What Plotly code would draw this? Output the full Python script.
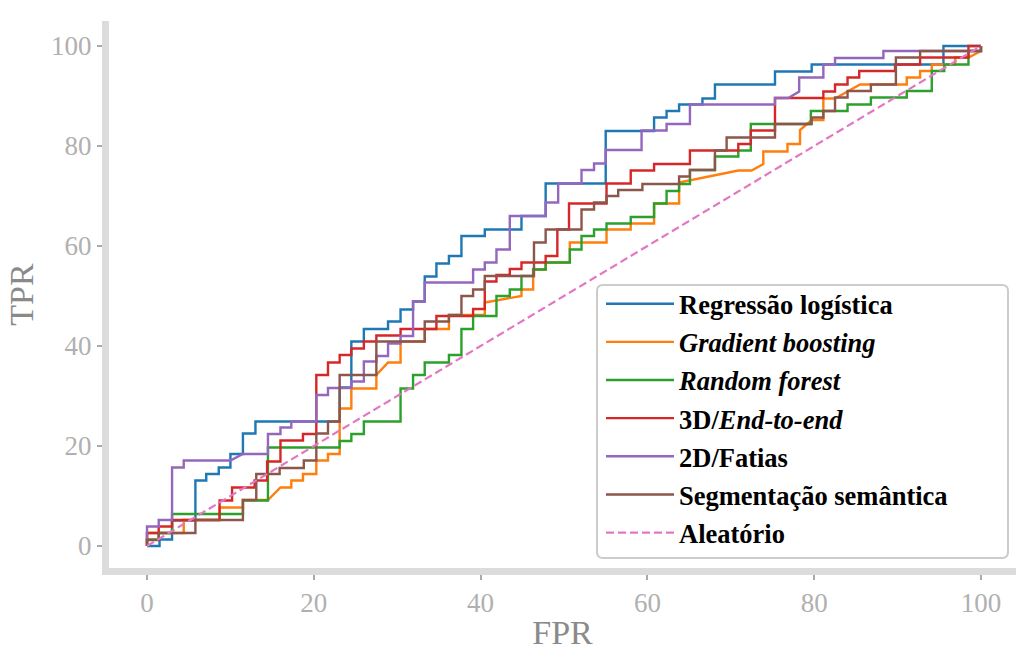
import plotly.graph_objects as go

# ROC curve vertices (FPR %, TPR %)
logreg = [(0,0),(1.5,0),(1.5,1.3),(3,1.3),(3,5.1),(5.8,5.1),(5.8,13.1),(7.1,13.1),(7.1,14.4),(8.6,14.4),(8.6,15.7),(10,15.7),(10,18.4),(11.5,18.4),(11.5,22.5),(13,22.5),(13,24.9),(23.1,24.9),(23.1,31.7),(24.5,31.7),(24.5,40.9),(26,40.9),(26,43.4),(28.9,43.4),(28.9,44.9),(30.4,44.9),(30.4,47.3),(31.9,47.3),(31.9,48.9),(33.3,48.9),(33.3,53.9),(34.7,53.9),(34.7,56.5),(36.2,56.5),(36.2,58),(37.7,58),(37.7,62),(40.5,62),(40.5,63.3),(44.9,63.3),(44.9,66),(47.8,66),(47.8,72.5),(55,72.5),(55,83),(60.8,83),(60.8,85.7),(62.3,85.7),(62.3,87),(63.8,87),(63.8,88.3),(66.6,88.3),(66.6,89.5),(68.1,89.5),(68.1,92.3),(75.3,92.3),(75.3,94.9),(79.7,94.9),(79.7,96.3),(95.5,96.3),(95.5,100),(100,100)]

gboost = [(0,0),(0,2.6),(4.4,2.6),(4.4,5.2),(8.7,5.2),(8.7,7.7),(11.5,7.7),(11.5,9.2),(14.5,9.2),(16,11.7),(17.3,11.7),(17.3,13.1),(18.7,13.1),(18.7,14.4),(20.3,14.4),(20.3,17.1),(21.7,17.1),(21.7,18.4),(23.1,18.4),(23.1,27.5),(24.5,27.5),(24.5,31.5),(27.5,31.5),(27.5,34.2),(28.9,36.7),(30.4,36.7),(30.4,40.9),(33.3,40.9),(33.3,43.4),(36.2,43.4),(36.2,46.2),(40.5,46.2),(40.5,48.7),(44.9,50),(44.9,51.3),(46.3,51.3),(46.3,55.3),(47.8,55.3),(47.8,56.7),(50.7,56.7),(50.7,60.7),(55.1,60.7),(55.1,63.3),(58,63.3),(58,64.5),(60.8,64.5),(60.8,68.5),(63.8,68.5),(63.8,72.7),(70.9,75.1),(72.5,75.1),(73.9,76.4),(73.9,78.9),(76.8,78.9),(76.8,80.4),(78.3,80.4),(78.3,83.2),(79.7,85.2),(81.1,85.2),(81.1,89.5),(82.5,89.5),(85.5,92.3),(91.1,92.3),(91.1,93.7),(92.7,93.7),(92.7,95),(94.1,95),(94.1,96.3),(96.9,96.3),(96.9,97.7),(98.5,97.7),(100,99),(100,100)]

rforest = [(0,0),(0,1.3),(1.4,1.3),(1.4,2.6),(3,2.6),(3,6.4),(11.5,6.4),(11.5,9.1),(14.5,9.1),(14.5,19.7),(23.1,19.7),(23.1,21),(24.5,21),(24.5,22.4),(26,22.4),(26,24.9),(30.4,24.9),(30.4,31.5),(31.9,31.5),(31.9,34.2),(33.3,34.2),(33.3,36.7),(36.2,36.7),(36.2,38.2),(37.7,38.2),(37.7,43.4),(39.1,43.4),(39.1,46),(41.9,46),(41.9,50),(43.5,50),(43.5,51.3),(44.9,51.3),(44.9,54),(46.3,54),(46.3,55.3),(47.8,55.3),(47.8,56.7),(50.7,56.7),(50.7,59.3),(52.1,59.3),(52.1,62),(53.6,62),(53.6,63.3),(55.1,63.3),(55.1,64.5),(58,64.5),(58,65.8),(60.8,65.8),(60.8,68.5),(62.3,68.5),(62.3,71),(63.8,71),(63.8,72.4),(65.1,72.4),(65.1,75.2),(68.1,75.2),(68.1,77.9),(70.9,77.9),(70.9,79.1),(72.4,79.1),(72.4,84.4),(79.6,84.4),(79.6,87),(84,87),(84,88.3),(86.8,88.3),(86.8,89.7),(91.1,89.7),(91.1,91),(94.1,91),(94.1,95),(95.6,95),(95.6,96.3),(98.5,96.3),(98.5,99),(100,99),(100,100)]

end2end = [(0,0),(0,2.6),(1.4,2.6),(1.4,3.9),(3,3.9),(3,5.2),(8.7,5.2),(8.7,9.1),(10.2,9.1),(10.2,11.7),(12.9,11.7),(12.9,13.1),(14.4,13.1),(14.4,16.9),(16,16.9),(16,21.1),(18.7,21.1),(18.7,22.4),(20.3,22.4),(20.3,34.2),(21.7,34.2),(21.7,36.7),(23.1,36.7),(23.1,38.2),(24.5,38.2),(24.5,39.5),(26,39.5),(26,40.9),(27.5,40.9),(27.5,42.1),(30.4,42.1),(30.4,43.4),(34.7,43.4),(34.7,46),(39.1,46),(39.1,47.4),(40.5,47.4),(40.5,52.9),(41.9,52.9),(41.9,54.2),(43.5,54.2),(43.5,55.4),(44.9,55.4),(44.9,56.7),(47.8,56.7),(47.8,58),(49.2,58),(49.2,63.3),(50.6,63.3),(50.6,68.5),(55.1,68.5),(55.1,72.5),(58,72.5),(58,75.1),(60.8,75.1),(60.8,76.4),(65.1,76.4),(65.1,79.1),(70.9,79.1),(70.9,80.4),(72.4,80.4),(72.4,83.1),(75.3,83.1),(75.3,89.6),(81.1,89.6),(81.1,90.9),(82.5,90.9),(82.5,92.3),(84,92.3),(84,93.7),(85.4,93.7),(85.4,95),(89.7,95),(89.7,96.3),(92.7,96.3),(92.7,97.7),(98.5,97.7),(98.5,100),(100,100)]

slices2d = [(0,0),(0,3.9),(1.4,3.9),(1.4,5.2),(3,5.2),(3,15.7),(4.4,15.7),(4.4,17.1),(10,17.1),(11.5,18.4),(14.5,18.4),(14.5,22.4),(16,22.4),(16,23.7),(17.3,23.7),(17.3,24.9),(20.3,24.9),(20.3,30.2),(21.7,30.2),(21.7,31.6),(24.5,31.6),(24.5,32.9),(26,32.9),(26,36.9),(27.5,36.9),(27.5,38),(28.9,38),(28.9,40.5),(30.4,40.5),(30.4,42),(31.9,42),(31.9,48.9),(33.3,48.9),(33.3,52.7),(39.1,52.7),(39.1,55.3),(40.5,55.3),(40.5,56.7),(41.9,56.7),(41.9,59.3),(43.5,59.3),(43.5,66),(47.8,66),(47.8,68.7),(49.3,68.7),(49.3,72.5),(52.1,72.5),(52.1,75.2),(53.6,75.2),(53.6,76.5),(55,76.5),(55,79.2),(59.3,79.2),(59.3,83.1),(62.3,83.1),(62.3,84.4),(65.1,84.4),(65.1,88.3),(75.3,88.3),(75.3,89.6),(76.9,89.6),(78.2,90.9),(78.2,93.7),(81.1,93.7),(81.1,96.3),(82.5,96.3),(82.5,97.6),(88.3,97.6),(88.3,99),(100,99),(100,100)]

semseg = [(0,0),(0,1.2),(1.4,1.2),(1.4,2.6),(5.8,2.6),(5.8,5.2),(11.5,5.2),(11.5,9.2),(13.1,9.2),(13.1,14.4),(15.9,14.4),(15.9,15.6),(18.8,15.6),(18.8,17.1),(20.3,17.1),(20.3,22.5),(21.7,22.5),(21.7,24.9),(23.1,24.9),(23.1,34.2),(27.5,34.2),(27.5,40.9),(33.3,40.9),(33.3,44.9),(36.2,44.9),(36.2,46.2),(37.7,46.2),(37.7,50),(39.1,50),(39.1,51.3),(40.5,51.3),(40.5,54),(46.4,54),(46.4,60.7),(47.8,60.7),(47.8,63.3),(52.1,63.3),(52.1,67.3),(53.6,67.3),(53.6,68.7),(55.1,68.7),(55.1,70),(56.5,70),(56.5,71.2),(59.4,71.2),(59.4,72.4),(63.8,72.4),(63.8,73.9),(65.1,73.9),(65.1,75.2),(68.1,75.2),(68.1,79.1),(69.5,79.1),(69.5,81.7),(75.3,81.7),(75.3,84.4),(79.7,84.4),(79.7,85.7),(81.1,85.7),(81.1,87),(82.5,87),(82.5,89.7),(84,89.7),(84,91),(86.8,91),(86.8,92.3),(89.8,92.3),(89.8,97.7),(92.7,97.7),(92.7,99),(100,99),(100,100)]

random_fpr = [0, 100]
random_tpr = [0, 100]

tick_values = [0, 20, 40, 60, 80, 100]

series = [
    ("<b>Regressão logística</b>", logreg, "#1f77b4"),
    ("<b><i>Gradient boosting</i></b>", gboost, "#ff7f0e"),
    ("<b><i>Random forest</i></b>", rforest, "#2ca02c"),
    ("<b>3D/<i>End-to-end</i></b>", end2end, "#d62728"),
    ("<b>2D/Fatias</b>", slices2d, "#9467bd"),
    ("<b>Segmentação semântica</b>", semseg, "#8c564b"),
]

fig = go.Figure()
for i, (name, pts, color) in enumerate(series):
    fig.add_trace(go.Scatter(
        x=[p[0] for p in pts], y=[p[1] for p in pts], mode="lines", name=name,
        line=dict(color=color, width=2.4), legendgroup=f"g{i}"))
fig.add_trace(go.Scatter(
    x=random_fpr, y=random_tpr, mode="lines", name="<b>Aleatório</b>",
    line=dict(color="#e377c2", width=2.2, dash="8px,4px"), legendgroup="g7"))

serif = "Liberation Serif"
axis_common = dict(
    showgrid=False, zeroline=False, showline=True, linecolor="#dcdcdc", linewidth=7,
    ticks="outside", ticklen=5, tickwidth=1.5, tickcolor="#aaaaaa",
    tickfont=dict(family=serif, size=27, color="#b0b0b0"),
    tickvals=tick_values,
)

# legend frame (paper coordinates of the plot area), with rounded corners
L, R, B, T = 109, 1016, 568, 21
def px_x(p):
    return (p - L) / (R - L)
def px_y(p):
    return (B - p) / (B - T)
x0, x1, y0, y1 = px_x(597), px_x(1008), px_y(558), px_y(285)
rx, ry = 6 / (R - L), 6 / (B - T)
frame_path = (f"M {x0+rx},{y0} L {x1-rx},{y0} Q {x1},{y0} {x1},{y0+ry} "
              f"L {x1},{y1-ry} Q {x1},{y1} {x1-rx},{y1} L {x0+rx},{y1} "
              f"Q {x0},{y1} {x0},{y1-ry} L {x0},{y0+ry} Q {x0},{y0} {x0+rx},{y0} Z")

fig.update_layout(
    width=1016, height=651,
    margin=dict(l=L, r=0, t=T, b=651 - B),
    plot_bgcolor="white", paper_bgcolor="white",
    font=dict(family=serif),
    xaxis=dict(range=[-4.56, 104.2], title=dict(text="FPR", font=dict(family=serif, size=34, color="#8a8a8a"), standoff=8), **axis_common),
    yaxis=dict(range=[-4.4, 105], title=dict(text="TPR", font=dict(family=serif, size=34, color="#8a8a8a"), standoff=10), **axis_common),
    legend=dict(
        x=px_x(601), y=px_y(280), xanchor="left", yanchor="top",
        bgcolor="rgba(0,0,0,0)", borderwidth=0,
        font=dict(family=serif, size=26.5, color="black"),
        traceorder="grouped", tracegroupgap=0.7, itemwidth=68,
    ),
    shapes=[dict(type="path", xref="paper", yref="paper", path=frame_path,
                 line=dict(color="#cccccc", width=2), fillcolor="white", layer="above")],
    showlegend=True,
)
fig.write_html("out.html", config={"displayModeBar": False},
               post_script="document.body.style.margin='0';")
